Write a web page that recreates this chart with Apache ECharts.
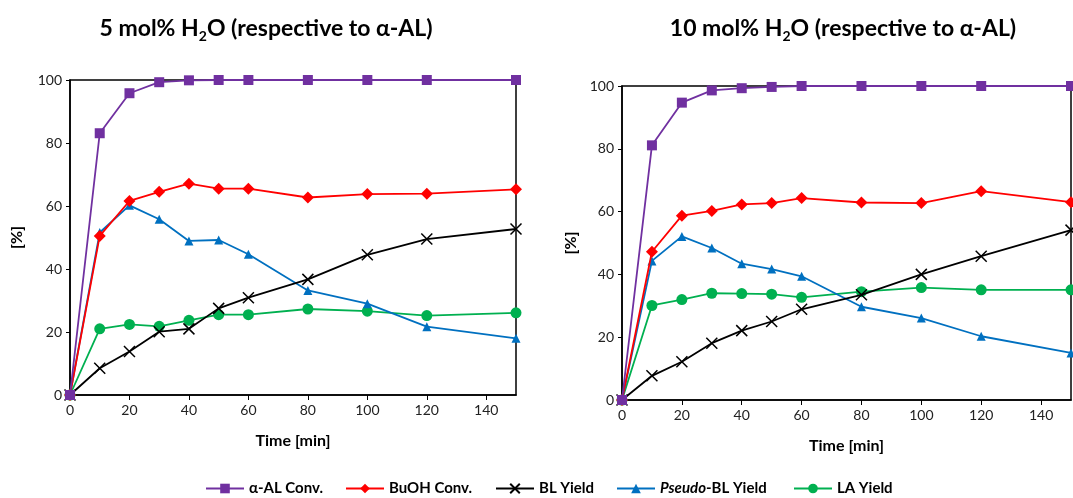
<!DOCTYPE html>
<html>
<head>
<meta charset="utf-8">
<script src="https://cdn.jsdelivr.net/npm/echarts@6/dist/echarts.min.js"></script>
<style>
  html, body { margin: 0; padding: 0; background: #fff; }
  #main { width: 1073px; height: 498px; }
</style>
</head>
<body>
<div id="main"></div>
<script>
// time points (min)
var times = [0, 10, 20, 30, 40, 50, 60, 80, 100, 120, 150];

// 5 mol% H2O
var alConv5   = [0, 83.1, 95.8, 99.3, 99.9, 100, 100, 100, 100, 100, 100];
var buohConv5 = [0, 50.5, 61.6, 64.5, 67.1, 65.5, 65.5, 62.7, 63.8, 63.9, 65.3];
var blYield5  = [0, 8.5, 13.8, 20.1, 21.0, 27.5, 30.9, 36.7, 44.5, 49.5, 52.7];
var pseudo5   = [0, 51.6, 60.2, 55.8, 48.9, 49.2, 44.7, 33.2, 29.0, 21.7, 18.0];
var laYield5  = [0, 21.0, 22.4, 21.8, 23.7, 25.5, 25.5, 27.3, 26.6, 25.2, 26.1];

// 10 mol% H2O
var alConv10   = [0, 81.1, 94.7, 98.6, 99.3, 99.7, 100, 100, 100, 100, 100];
var buohConv10 = [0, 47.2, 58.7, 60.2, 62.3, 62.7, 64.3, 62.9, 62.7, 66.5, 63.0];
var blYield10  = [0, 7.7, 12.2, 18.1, 22.1, 25.0, 28.9, 33.5, 40.0, 45.8, 54.1];
var pseudo10   = [0, 44.3, 52.1, 48.4, 43.4, 41.7, 39.4, 29.7, 26.1, 20.3, 15.0];
var laYield10  = [0, 30.1, 32.0, 34.0, 33.9, 33.7, 32.7, 34.5, 35.8, 35.1, 35.1];

var seriesNames = ['α-AL Conv.', 'BuOH Conv.', 'BL Yield', 'Pseudo-BL Yield', 'LA Yield'];
var titles = ['5 mol% H', '10 mol% H'];

var FONT = 'Lato';
var crossPath = 'path://M0,0L10,10M10,0L0,10';

function pairs(ys) {
    return times.map(function (t, i) { return [t, ys[i]]; });
}

// 每个系列的样式
var styles = [
    { color: '#7030A0', symbol: 'rect', symbolSize: 10 },
    { color: '#FF0000', symbol: 'diamond', symbolSize: 12 },
    { color: '#000000', symbol: crossPath, symbolSize: 11, stroke: true },
    { color: '#0070C0', symbol: 'triangle', symbolSize: 9 },
    { color: '#00B050', symbol: 'circle', symbolSize: 11 }
];
// 图例各项的左边位置
var legendLeft = [200, 340, 490, 611, 788];

function makeSeries(dataSets, idx) {
    return dataSets.map(function (ys, k) {
        var s = styles[k];
        var itemStyle = s.stroke
            ? { color: 'rgba(0,0,0,0)', borderColor: s.color, borderWidth: 1.5 }
            : { color: s.color };
        return {
            name: seriesNames[k],
            type: 'line',
            xAxisIndex: idx,
            yAxisIndex: idx,
            data: pairs(ys),
            symbol: s.symbol,
            symbolSize: s.symbolSize,
            showAllSymbol: true,
            lineStyle: { color: s.color, width: 1.8 },
            itemStyle: itemStyle,
            z: 10 - k,
            animation: false
        };
    });
}

var grids = [
    { left: 70, right: 557, top: 80, bottom: 103 },
    { left: 622, right: 2, top: 86, bottom: 98 }
];

function makeX(idx) {
    return {
        type: 'value', gridIndex: idx, min: 0, max: 150, interval: 20,
        name: 'Time [min]', nameLocation: 'middle', nameGap: 38,
        nameTextStyle: { fontFamily: FONT, fontWeight: 'bold', fontSize: 16, color: '#000' },
        axisLine: { show: true, lineStyle: { color: '#000', width: 1.5 } },
        axisTick: { show: true, inside: false, length: 5, lineStyle: { color: '#000' } },
        axisLabel: { fontFamily: FONT, fontSize: 14, color: '#222', margin: 8, showMaxLabel: false },
        splitLine: { show: false }
    };
}

function makeY(idx) {
    return {
        type: 'value', gridIndex: idx, min: 0, max: 100, interval: 20,
        name: '[%]', nameLocation: 'middle', nameGap: idx === 0 ? 45 : 43, nameRotate: 90,
        nameTextStyle: { fontFamily: FONT, fontWeight: 'bold', fontSize: 16, color: '#000' },
        axisLine: { show: true, lineStyle: { color: '#000', width: 1.5 } },
        axisTick: { show: true, inside: false, length: 4, lineStyle: { color: '#000' } },
        axisLabel: { fontFamily: FONT, fontSize: 14, color: '#222', margin: 8 },
        splitLine: { show: false }
    };
}

var titleRich = {
    a: { fontFamily: FONT, fontWeight: 'bold', fontSize: 23, color: '#000', lineHeight: 30 },
    sub: { fontFamily: FONT, fontWeight: 'bold', fontSize: 14, color: '#000', lineHeight: 30, padding: [15, 0, 0, 0] }
};

var legends = seriesNames.map(function (name, k) {
    return {
        data: [name],
        bottom: -3,
        left: legendLeft[k],
        itemWidth: 38,
        itemHeight: 12,
        textStyle: {
            fontFamily: FONT, fontWeight: 'bold', fontSize: 15, color: '#000',
            rich: { i: { fontFamily: FONT, fontWeight: 'bold', fontStyle: 'italic', fontSize: 15, color: '#000' } }
        },
        formatter: function (n) {
            return n === 'Pseudo-BL Yield' ? '{i|Pseudo}-BL Yield' : n;
        }
    };
});

var option = {
    backgroundColor: '#fff',
    animation: false,
    title: [
        { text: '{a|' + titles[0] + '}{sub|2}{a|O (respective to α-AL)}', left: 261, top: 9, textAlign: 'center',
          textStyle: { rich: titleRich } },
        { text: '{a|' + titles[1] + '}{sub|2}{a|O (respective to α-AL)}', left: 838, top: 9, textAlign: 'center',
          textStyle: { rich: titleRich } }
    ],
    legend: legends,
    grid: grids.map(function (g) {
        return Object.assign({ show: true, borderColor: '#000', borderWidth: 1.5, backgroundColor: 'transparent' }, g);
    }),
    xAxis: [makeX(0), makeX(1)],
    yAxis: [makeY(0), makeY(1)],
    series: makeSeries([alConv5, buohConv5, blYield5, pseudo5, laYield5], 0)
        .concat(makeSeries([alConv10, buohConv10, blYield10, pseudo10, laYield10], 1))
};

var myChart = echarts.init(document.getElementById('main'));
myChart.setOption(option);
</script>
</body>
</html>
